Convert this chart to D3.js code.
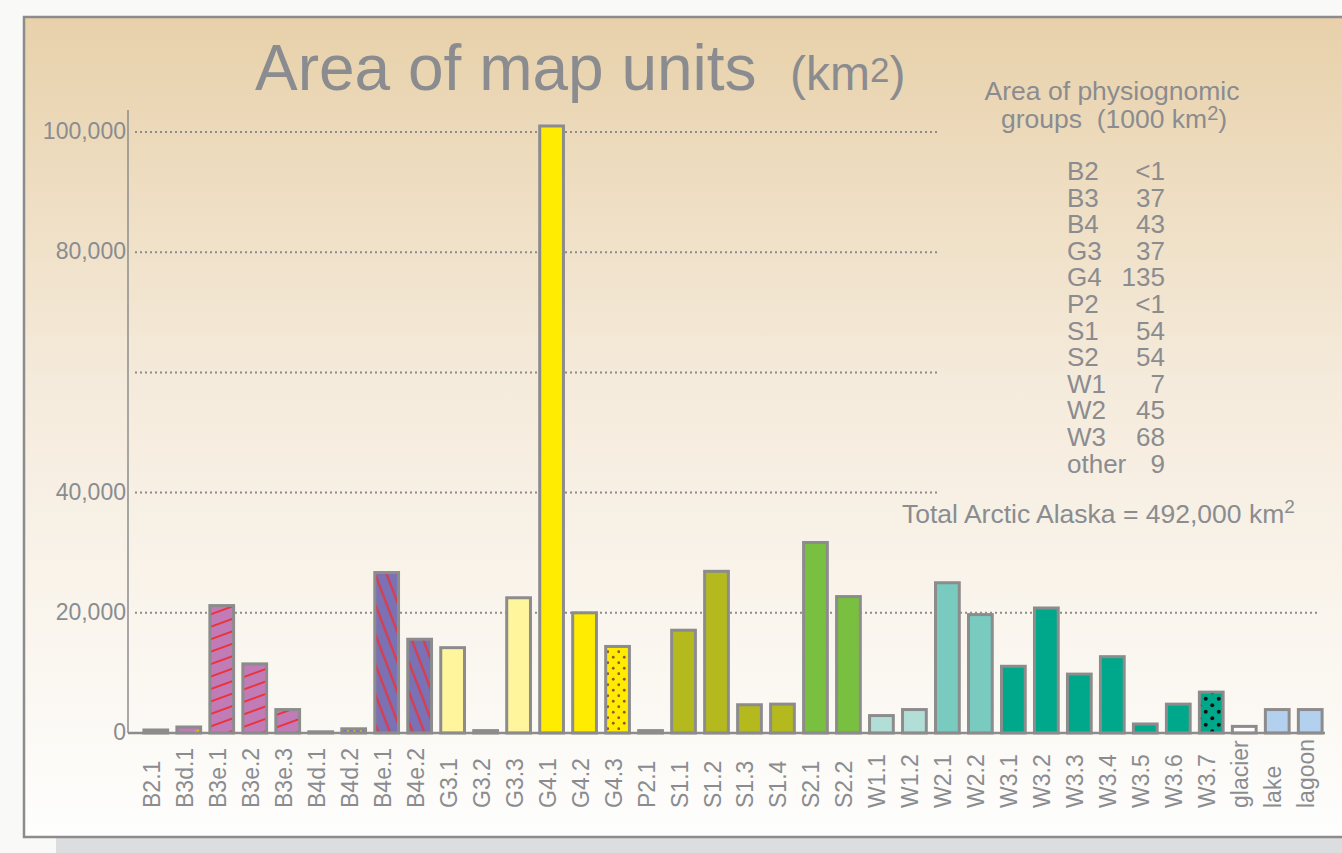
<!DOCTYPE html>
<html lang="en">
<head>
<meta charset="UTF-8">
<title>Area of map units</title>
<script src="https://d3js.org/d3.v7.min.js"></script>
<style>
  body { margin: 0; padding: 0; background: #f9faf7; overflow: hidden; }
  svg { display: block; font-family: "Liberation Sans", Arial, Helvetica, sans-serif; }
  .txt { fill: #8a8c90; white-space: pre; }
</style>
</head>
<body>
<svg id="chart" width="1342" height="853"></svg>
<script>
// map units and their area (km2)
const units = ["B2.1","B3d.1","B3e.1","B3e.2","B3e.3","B4d.1","B4d.2","B4e.1","B4e.2",
  "G3.1","G3.2","G3.3","G4.1","G4.2","G4.3","P2.1",
  "S1.1","S1.2","S1.3","S1.4","S2.1","S2.2",
  "W1.1","W1.2","W2.1","W2.2","W3.1","W3.2","W3.3","W3.4","W3.5","W3.6","W3.7",
  "glacier","lake","lagoon"];
const areas = [500, 1000, 21200, 11500, 3900, 200, 700, 26700, 15600,
  14200, 400, 22500, 101000, 20000, 14400, 400,
  17100, 26900, 4700, 4800, 31700, 22700,
  2900, 3900, 25000, 19700, 11100, 20800, 9800, 12700, 1500, 4800, 6800,
  1100, 3900, 3900];

// y axis ticks (the 60,000 label is not printed in the original)
const yTicks = [0, 20000, 40000, 60000, 80000, 100000];
const yTickLabels = ["0", "20,000", "40,000", "", "80,000", "100,000"];

// physiognomic group summary (1000 km2)
const groupNames = ["B2","B3","B4","G3","G4","P2","S1","S2","W1","W2","W3","other"];
const groupAreas = ["<1","37","43","37","135","<1","54","54","7","45","68","9"];

// fill of each unit: plain colour or pattern id
const unitFill = {
  "B2.1": "#8c8c8c", "B3d.1": "url(#hatchB3d)", "B3e.1": "url(#hatchB3e)", "B3e.2": "url(#hatchB3e)",
  "B3e.3": "url(#hatchB3e)", "B4d.1": "#8c8c8c", "B4d.2": "url(#hatchB4d)", "B4e.1": "url(#hatchB4e)",
  "B4e.2": "url(#hatchB4e)", "G3.1": "#fff59c", "G3.2": "#fff59c", "G3.3": "#fff59c",
  "G4.1": "#ffec00", "G4.2": "#ffec00", "G4.3": "url(#dotsG43)", "P2.1": "#8c8c8c",
  "S1.1": "#b4ba1d", "S1.2": "#b4ba1d", "S1.3": "#b4ba1d", "S1.4": "#b4ba1d",
  "S2.1": "#79bf40", "S2.2": "#79bf40", "W1.1": "#b1dfd8", "W1.2": "#b1dfd8",
  "W2.1": "#79cbbf", "W2.2": "#79cbbf", "W3.1": "#00a88b", "W3.2": "#00a88b", "W3.3": "#00a88b",
  "W3.4": "#00a88b", "W3.5": "#00a88b", "W3.6": "#00a88b", "W3.7": "url(#dotsW37)",
  "glacier": "#ffffff", "lake": "#b3d1ee", "lagoon": "#b3d1ee"
};

const svg = d3.select("#chart");
const defs = svg.append("defs");

// panel gradient
const grad = defs.append("linearGradient").attr("id", "panelGrad")
  .attr("x1", 0).attr("y1", 0).attr("x2", 0).attr("y2", 1);
grad.append("stop").attr("offset", "0%").attr("stop-color", "#e8d1aa");
grad.append("stop").attr("offset", "45%").attr("stop-color", "#f5ebdc");
grad.append("stop").attr("offset", "100%").attr("stop-color", "#fefefd");

// hatch patterns
function hatch(id, bg, line, angle, gap) {
  const p = defs.append("pattern").attr("id", id)
    .attr("patternUnits", "userSpaceOnUse")
    .attr("width", 20).attr("height", gap)
    .attr("patternTransform", `rotate(${angle})`);
  p.append("rect").attr("width", 20).attr("height", gap).attr("fill", bg);
  p.append("line").attr("x1", 0).attr("x2", 20).attr("y1", gap / 2).attr("y2", gap / 2)
    .attr("stroke", line).attr("stroke-width", 2);
}
hatch("hatchB3e", "#c17bb6", "#e8343a", -20, 11.7);
hatch("hatchB3d", "#c17bb6", "#f5c400", -20, 11.7);
hatch("hatchB4e", "#7a72b4", "#e8343a", 69, 10.7);
hatch("hatchB4d", "#7a72b4", "#f5c400", 69, 6);

function dots(id, bg, dot, size, r) {
  const p = defs.append("pattern").attr("id", id)
    .attr("patternUnits", "userSpaceOnUse")
    .attr("width", size).attr("height", size);
  p.append("rect").attr("width", size).attr("height", size).attr("fill", bg);
  p.append("circle").attr("cx", size * 0.25).attr("cy", size * 0.25).attr("r", r).attr("fill", dot);
  p.append("circle").attr("cx", size * 0.75).attr("cy", size * 0.75).attr("r", r).attr("fill", dot);
}
dots("dotsG43", "#ffec00", "#a0522d", 11, 1.4);
dots("dotsW37", "#00a88b", "#111111", 13, 2);

// panel and its shadow
svg.append("rect").attr("x", 56).attr("y", 838).attr("width", 1300).attr("height", 20).attr("fill", "#dcdddf");
svg.append("rect").attr("x", 24).attr("y", 17).attr("width", 1340).attr("height", 820)
  .attr("fill", "url(#panelGrad)").attr("stroke", "#8c8c8c").attr("stroke-width", 2.5);

// scales
const x = d3.scaleBand().domain(units).range([134, 1332]).paddingInner(0.28).paddingOuter(0.3);
const y = d3.scaleLinear().domain([0, 100000]).range([733, 132]);

// gridlines
svg.append("g").selectAll("line")
  .data(yTicks.filter(d => d > 0))
  .join("line")
  .attr("x1", 135)
  .attr("x2", d => d >= 40000 ? 938 : 1318)
  .attr("y1", d => y(d)).attr("y2", d => y(d))
  .attr("stroke", "#8c8c8c").attr("stroke-width", 2)
  .attr("stroke-dasharray", "2,3");

// y axis
const yAxis = svg.append("g").attr("transform", "translate(128,0)")
  .call(d3.axisLeft(y).tickValues(yTicks).tickFormat((d, i) => yTickLabels[i]).tickSize(0).tickPadding(2));
yAxis.select(".domain").remove();
yAxis.selectAll("text").attr("class", "txt").attr("font-size", 23).attr("dy", "0.28em")
  .attr("font-family", "Liberation Sans, Arial, sans-serif");
svg.append("line").attr("x1", 128).attr("x2", 128).attr("y1", 110).attr("y2", 733)
  .attr("stroke", "#8c8c8c").attr("stroke-width", 1.5);

// bars
svg.append("g").selectAll("rect")
  .data(units)
  .join("rect")
  .attr("x", d => x(d))
  .attr("width", x.bandwidth())
  .attr("y", (d, i) => y(areas[i]))
  .attr("height", (d, i) => y(0) - y(areas[i]))
  .attr("fill", d => unitFill[d])
  .attr("stroke", "#8c8c8c")
  .attr("stroke-width", 3);

// baseline
svg.append("line").attr("x1", 128).attr("x2", 1325).attr("y1", y(0)).attr("y2", y(0))
  .attr("stroke", "#8c8c8c").attr("stroke-width", 2.5);

// unit labels, rotated
svg.append("g").selectAll("text")
  .data(units)
  .join("text")
  .attr("class", "txt")
  .attr("font-size", 23)
  .attr("transform", d => `translate(${x(d) + x.bandwidth() / 2 + 4},808) rotate(-90)`)
  .text(d => d);

// title
const title = svg.append("text").attr("class", "txt").attr("x", 255).attr("y", 90).attr("font-size", 64);
title.append("tspan").text("Area of map units");
title.append("tspan").attr("x", 790).attr("font-size", 48).text("(km");
title.append("tspan").attr("font-size", 35).attr("dy", -8).text("2");
title.append("tspan").attr("font-size", 48).attr("dy", 8).text(")");

// group summary
svg.append("text").attr("class", "txt").attr("x", 1112).attr("y", 100).attr("font-size", 26.5)
  .attr("text-anchor", "middle").text("Area of physiognomic");
const sub = svg.append("text").attr("class", "txt").attr("x", 1114).attr("y", 128).attr("font-size", 26.5)
  .attr("text-anchor", "middle");
sub.append("tspan").text("groups  (1000 km");
sub.append("tspan").attr("font-size", 20).attr("dy", -8).text("2");
sub.append("tspan").attr("dy", 8).text(")");

const rows = svg.append("g");
rows.selectAll(".gname").data(groupNames).join("text")
  .attr("class", "txt gname").attr("font-size", 26)
  .attr("x", 1067).attr("y", (d, i) => 180 + i * 26.6).text(d => d);
rows.selectAll(".gval").data(groupAreas).join("text")
  .attr("class", "txt gval").attr("font-size", 26).attr("text-anchor", "end")
  .attr("x", 1165).attr("y", (d, i) => 180 + i * 26.6).text(d => d);

const total = svg.append("text").attr("class", "txt").attr("x", 902).attr("y", 523).attr("font-size", 26.5);
total.append("tspan").text("Total Arctic Alaska = 492,000 km");
total.append("tspan").attr("font-size", 19).attr("dy", -10).text("2");
</script>
</body>
</html>
